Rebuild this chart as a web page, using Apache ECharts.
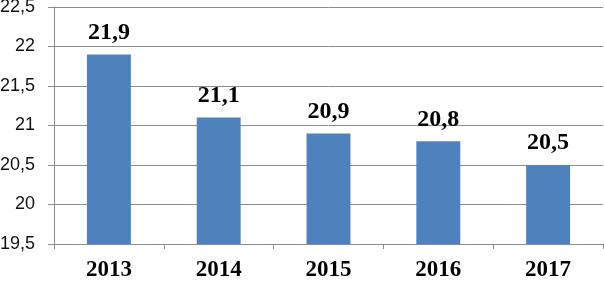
<!DOCTYPE html>
<html><head><meta charset="utf-8">
<script src="https://cdn.jsdelivr.net/npm/echarts@6/dist/echarts.min.js"></script>
<style>html,body{margin:0;padding:0;background:#fff}#c{width:604px;height:282px}</style>
</head><body><div id="c"></div>
<script>
const categories = ['2013','2014','2015','2016','2017'];
const values = [21.9, 21.1, 20.9, 20.8, 20.5];
const yMin = 19.5, yMax = 22.5, yStep = 0.5;
const fmt = v => String(v).replace('.', ',');
const chart = echarts.init(document.getElementById('c'));
chart.setOption({
  animation:false,
  grid:{left:54,right:1,top:7,bottom:38,containLabel:false,outerBoundsMode:'none'},
  xAxis:{type:'category',data:categories,
    axisLine:{lineStyle:{color:'#8c8c8c'}},
    axisTick:{show:true,length:5,lineStyle:{color:'#8c8c8c'}},
    axisLabel:{color:'#000',fontFamily:'Liberation Serif',fontWeight:'bold',fontSize:23,margin:15}},
  yAxis:{type:'value',min:yMin,max:yMax,interval:yStep,
    axisLine:{show:true,lineStyle:{color:'#8c8c8c'}},
    axisTick:{show:true,length:6,lineStyle:{color:'#8c8c8c'}},
    splitLine:{lineStyle:{color:'#8c8c8c'}},
    axisLabel:{color:'#111',fontFamily:'Liberation Sans',fontSize:18,margin:19,formatter:fmt}},
  series:[{type:'bar',data:values,barWidth:'40%',
    itemStyle:{color:'#4F81BD'},
    label:{show:true,position:'top',distance:10,color:'#000',fontFamily:'Liberation Serif',fontWeight:'bold',fontSize:24,formatter:p=>fmt(p.value)}}]
});
</script></body></html>
